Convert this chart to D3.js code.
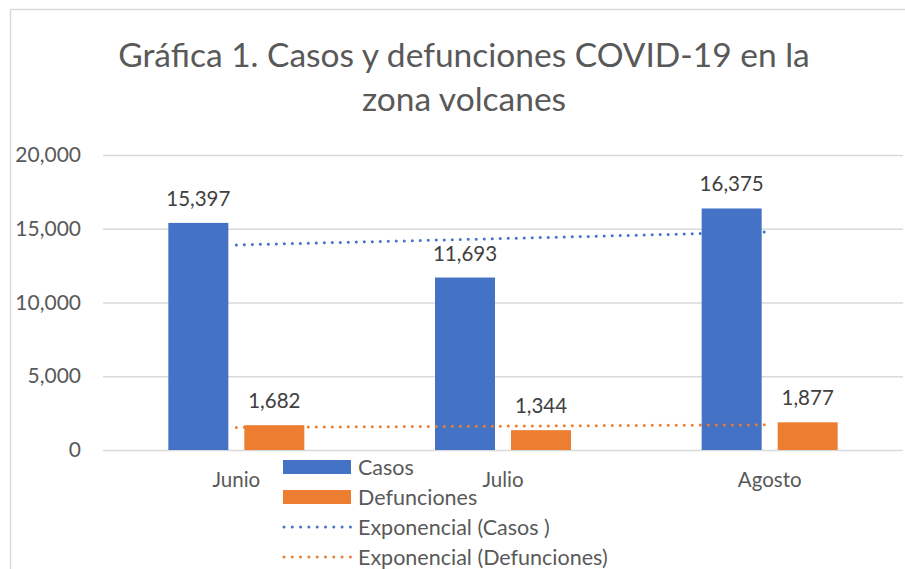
<!DOCTYPE html>
<html>
<head>
<meta charset="utf-8">
<script src="https://cdn.jsdelivr.net/npm/d3@7"></script>
<style>
  body { margin: 0; background: #fff; }
  svg { display: block; font-family: Lato, "Open Sans", sans-serif; }
</style>
</head>
<body>
<svg id="chart" width="905" height="569"></svg>
<script>
const months = ['Junio', 'Julio', 'Agosto'];
const casos = [15397, 11693, 16375];
const defunciones = [1682, 1344, 1877];
const yTicks = [0, 5000, 10000, 15000, 20000];
const seriesNames = ['Casos', 'Defunciones'];
const legendLabels = ['Casos', 'Defunciones', 'Exponencial (Casos )', 'Exponencial (Defunciones)'];
const titleLines = ['Gráfica 1. Casos y defunciones COVID-19 en la', 'zona volcanes'];

const colors = { Casos: '#4472C4', Defunciones: '#ED7D31' };
const textColor = '#595959';

const svg = d3.select('#chart');

// chart frame (only left / top edges are visible in the picture)
svg.append('rect')
  .attr('x', 10.5).attr('y', 9.5)
  .attr('width', 1000).attr('height', 1000)
  .attr('fill', 'none')
  .attr('stroke', '#d9d9d9')
  .attr('stroke-width', 1.5);

// title
svg.append('g')
  .selectAll('text')
  .data(titleLines)
  .join('text')
  .attr('x', 464)
  .attr('y', (d, i) => 67 + i * 44)
  .attr('text-anchor', 'middle')
  .attr('fill', textColor)
  .style('font-size', '33.5px')
  .text(d => d);

const x = d3.scaleBand().domain(months).range([103, 903]);
const xs = d3.scaleBand().domain(seriesNames).range([-68, 68]).paddingInner(16 / 76);
const y = d3.scaleLinear().domain([0, 20000]).range([450, 155]);

// gridlines + y labels
const yAxis = d3.axisLeft(y)
  .tickValues(yTicks)
  .tickFormat(d3.format(','))
  .tickSize(-800)
  .tickPadding(22);

svg.append('g')
  .attr('transform', 'translate(103,0)')
  .call(yAxis)
  .call(g => g.select('.domain').remove())
  .call(g => g.selectAll('.tick line').attr('stroke', '#d9d9d9').attr('stroke-width', 1.5))
  .call(g => g.selectAll('.tick text')
    .attr('fill', textColor)
    .style('font-size', '21px')
    .style('font-family', 'Lato, "Open Sans", sans-serif'));

// x labels
svg.append('g')
  .selectAll('text')
  .data(months)
  .join('text')
  .attr('x', d => x(d) + x.bandwidth() / 2)
  .attr('y', 487)
  .attr('text-anchor', 'middle')
  .attr('fill', textColor)
  .style('font-size', '20.5px')
  .text(d => d);

const rows = months.map((m, i) => ({ month: m, Casos: casos[i], Defunciones: defunciones[i] }));

// bars
const groups = svg.append('g')
  .selectAll('g')
  .data(rows)
  .join('g')
  .attr('transform', d => `translate(${x(d.month) + x.bandwidth() / 2},0)`);

groups.selectAll('rect')
  .data(d => seriesNames.map(s => ({ s, v: d[s] })))
  .join('rect')
  .attr('x', d => xs(d.s))
  .attr('width', xs.bandwidth())
  .attr('y', d => y(d.v))
  .attr('height', d => y(0) - y(d.v))
  .attr('fill', d => colors[d.s]);

// exponential trendlines (least squares on ln y, like the spreadsheet)
function expFit(vals) {
  const xsI = vals.map((v, i) => i + 1);
  const ly = vals.map(v => Math.log(v));
  const mx = d3.mean(xsI), my = d3.mean(ly);
  const b = d3.sum(xsI, (xi, i) => (xi - mx) * (ly[i] - my)) / d3.sum(xsI, xi => (xi - mx) ** 2);
  const a = my - b * mx;
  return xsI.map(xi => Math.exp(a + b * xi));
}

const line = d3.line()
  .x((d, i) => x(months[i]) + x.bandwidth() / 2)
  .y(d => y(d));

[['Casos', casos], ['Defunciones', defunciones]].forEach(([name, vals]) => {
  svg.append('path')
    .datum(expFit(vals))
    .attr('d', line)
    .attr('fill', 'none')
    .attr('stroke', colors[name])
    .attr('stroke-width', 3)
    .attr('stroke-linecap', 'round')
    .attr('stroke-dasharray', '0 8');
});

// data labels
groups.selectAll('text')
  .data(d => seriesNames.map(s => ({ s, v: d[s] })))
  .join('text')
  .attr('x', d => xs(d.s) + xs.bandwidth() / 2)
  .attr('y', d => y(d.v) - 17)
  .attr('text-anchor', 'middle')
  .attr('fill', '#404040')
  .style('font-size', '20.5px')
  .text(d => d3.format(',')(d.v));

// legend
const legend = svg.append('g').attr('transform', 'translate(283,0)');
const legendY = [467, 497, 527, 557];
legendLabels.forEach((lbl, i) => {
  const g = legend.append('g').attr('transform', `translate(0,${legendY[i]})`);
  const col = i % 2 === 0 ? colors.Casos : colors.Defunciones;
  if (i < 2) {
    g.append('rect').attr('x', 0).attr('y', -7).attr('width', 68).attr('height', 14).attr('fill', col);
  } else {
    g.append('line')
      .attr('x1', 1).attr('x2', 68)
      .attr('stroke', col)
      .attr('stroke-width', 3)
      .attr('stroke-linecap', 'round')
      .attr('stroke-dasharray', '0 8.3');
  }
  g.append('text')
    .attr('x', 75)
    .attr('dy', '0.35em')
    .attr('fill', textColor)
    .style('font-size', '21.5px')
    .text(lbl);
});
</script>
</body>
</html>
